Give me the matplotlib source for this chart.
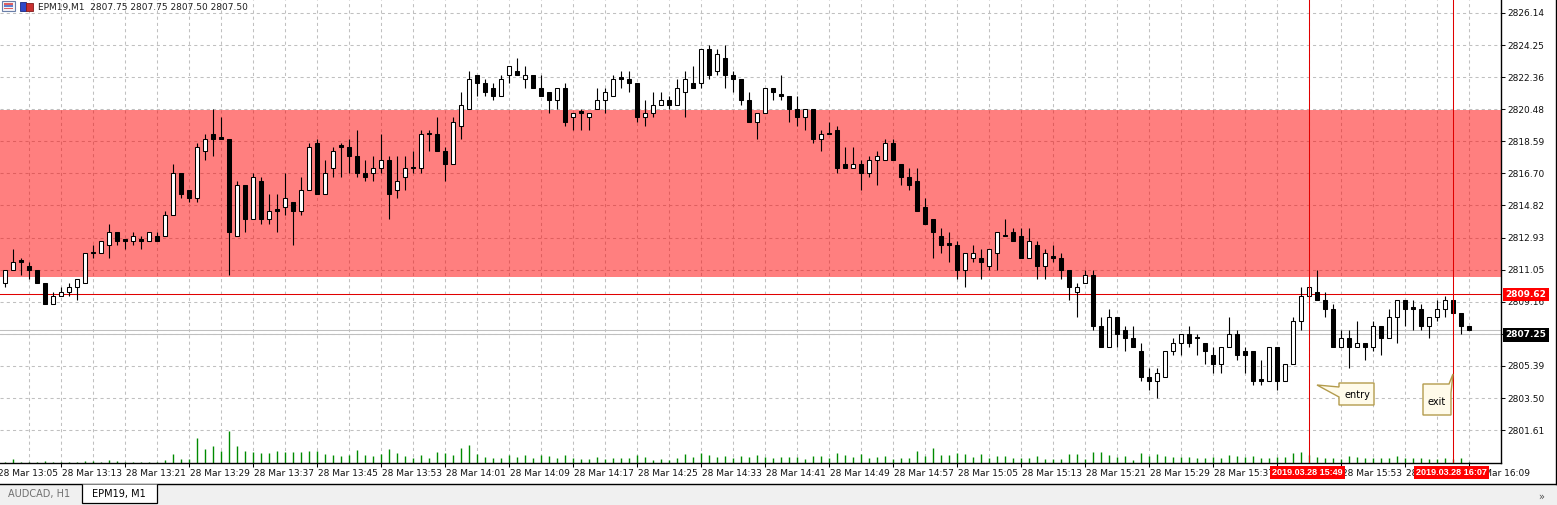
import numpy as np
import matplotlib
matplotlib.use('Agg')
import matplotlib.pyplot as plt
from matplotlib.patches import Polygon, Rectangle

plt.rcParams['font.family'] = ['DejaVu Sans']

# --- data (EPM19, M1, 28 Mar 13:06 .. 16:09) ---
OPEN = [
    2810.25, 2811.0, 2811.5, 2811.25, 2811.0, 2810.25, 2809.0, 2809.5, 2809.75, 2810.0,
    2810.25, 2812.0, 2812.0, 2812.5, 2813.25, 2812.75, 2812.75, 2812.75, 2812.75, 2813.0,
    2813.0, 2814.25, 2816.75, 2815.75, 2815.25, 2818.0, 2819.0, 2818.75, 2818.75, 2813.0,
    2816.0, 2814.0, 2816.25, 2814.0, 2814.5, 2814.75, 2815.0, 2814.5, 2815.75, 2818.5,
    2815.5, 2817.0, 2818.25, 2818.25, 2817.75, 2816.75, 2816.75, 2817.0, 2817.5, 2815.75,
    2816.5, 2817.0, 2817.0, 2819.0, 2819.0, 2818.0, 2817.25, 2819.5, 2820.5, 2822.5,
    2822.0, 2821.75, 2821.25, 2822.5, 2822.75, 2822.25, 2822.5, 2821.75, 2821.5, 2821.0,
    2821.75, 2820.0, 2820.25, 2820.0, 2820.5, 2821.0, 2821.25, 2822.25, 2822.25, 2822.0,
    2820.0, 2820.25, 2820.75, 2821.0, 2820.75, 2821.5, 2822.0, 2822.0, 2824.0, 2822.75,
    2823.5, 2822.5, 2822.25, 2821.0, 2819.75, 2820.25, 2821.75, 2821.25, 2821.25, 2820.5,
    2820.0, 2820.5, 2818.75, 2819.0, 2819.25, 2817.25, 2817.0, 2817.25, 2816.75, 2817.5,
    2817.5, 2818.5, 2817.25, 2816.5, 2816.25, 2814.75, 2814.0, 2813.0, 2812.5, 2812.5,
    2811.0, 2811.75, 2811.75, 2811.25, 2812.0, 2813.0, 2813.25, 2813.0, 2811.75, 2812.5,
    2811.25, 2811.75, 2811.75, 2811.0, 2809.75, 2810.25, 2810.75, 2807.75, 2806.5, 2808.25,
    2807.5, 2807.0, 2806.25, 2804.75, 2804.5, 2804.75, 2806.25, 2806.75, 2807.25, 2807.0,
    2806.75, 2806.0, 2805.5, 2806.5, 2807.25, 2806.25, 2806.25, 2804.5, 2804.5, 2806.5,
    2804.5, 2805.5, 2808.0, 2809.5, 2809.75, 2809.25, 2808.75, 2806.5, 2807.0, 2806.5,
    2806.75, 2806.5, 2807.75, 2807.0, 2808.25, 2809.25, 2808.75, 2808.75, 2807.75, 2808.25,
    2808.75, 2809.25, 2808.5, 2807.75,
]
HIGH = [
    2811.0, 2812.25, 2811.75, 2811.5, 2811.0, 2810.25, 2809.75, 2810.0, 2810.25, 2810.5,
    2812.0, 2812.5, 2812.75, 2813.75, 2813.25, 2812.75, 2813.25, 2813.0, 2813.25, 2813.25,
    2814.5, 2817.25, 2816.75, 2815.75, 2818.5, 2819.0, 2820.5, 2820.0, 2818.75, 2816.25,
    2816.0, 2816.75, 2816.5, 2815.5, 2815.5, 2816.75, 2815.0, 2816.5, 2818.5, 2818.75,
    2817.5, 2818.25, 2818.5, 2818.75, 2819.25, 2817.5, 2817.75, 2819.0, 2817.75, 2817.75,
    2817.75, 2818.0, 2819.25, 2819.25, 2820.0, 2818.25, 2820.0, 2821.5, 2822.75, 2822.5,
    2822.25, 2822.0, 2822.5, 2823.0, 2823.5, 2823.0, 2822.5, 2822.5, 2821.5, 2821.75,
    2822.0, 2820.25, 2820.5, 2820.25, 2821.75, 2821.75, 2822.5, 2822.75, 2822.75, 2822.0,
    2821.0, 2821.5, 2821.5, 2821.25, 2822.25, 2822.75, 2823.0, 2824.0, 2824.25, 2824.0,
    2824.25, 2822.75, 2822.25, 2821.5, 2820.25, 2821.75, 2821.75, 2822.5, 2821.25, 2821.25,
    2820.5, 2820.5, 2819.25, 2819.75, 2819.5, 2818.25, 2818.25, 2817.5, 2817.75, 2818.0,
    2818.75, 2818.75, 2817.25, 2817.0, 2817.0, 2815.25, 2814.0, 2813.5, 2813.25, 2812.75,
    2812.0, 2812.5, 2812.25, 2812.25, 2813.25, 2814.0, 2813.5, 2813.5, 2813.5, 2812.75,
    2812.25, 2812.5, 2812.0, 2811.0, 2810.25, 2811.0, 2811.0, 2808.25, 2808.75, 2808.25,
    2807.75, 2807.75, 2806.75, 2805.25, 2805.25, 2806.25, 2807.0, 2807.25, 2807.75, 2807.25,
    2806.75, 2806.5, 2806.5, 2808.25, 2807.5, 2806.5, 2806.25, 2805.75, 2806.5, 2806.5,
    2805.5, 2808.25, 2810.0, 2810.0, 2811.0, 2809.75, 2809.0, 2807.5, 2807.5, 2808.0,
    2806.75, 2808.0, 2807.75, 2808.75, 2809.25, 2809.25, 2809.25, 2809.0, 2808.25, 2809.25,
    2809.5, 2809.25, 2808.5, 2807.75,
]
LOW = [
    2810.0, 2811.0, 2810.75, 2810.5, 2810.25, 2809.0, 2809.0, 2809.5, 2809.5, 2809.25,
    2810.25, 2811.75, 2812.0, 2811.75, 2812.5, 2812.25, 2812.5, 2812.25, 2812.75, 2812.75,
    2813.0, 2814.25, 2815.25, 2815.0, 2815.0, 2817.5, 2817.75, 2818.75, 2810.75, 2813.0,
    2813.25, 2814.0, 2813.75, 2813.75, 2813.25, 2814.25, 2812.5, 2814.25, 2815.75, 2815.5,
    2815.5, 2816.5, 2816.5, 2816.75, 2816.5, 2816.25, 2816.25, 2816.75, 2814.0, 2815.25,
    2815.75, 2816.75, 2816.75, 2818.0, 2818.0, 2816.25, 2817.25, 2818.75, 2820.5, 2821.25,
    2821.25, 2821.0, 2821.25, 2822.0, 2822.5, 2821.75, 2821.75, 2821.25, 2820.25, 2820.5,
    2819.5, 2819.25, 2819.25, 2819.25, 2820.5, 2820.25, 2821.25, 2821.75, 2821.5, 2819.75,
    2819.5, 2820.0, 2820.75, 2820.5, 2820.75, 2820.0, 2821.75, 2821.75, 2822.25, 2822.5,
    2821.75, 2821.5, 2820.75, 2819.75, 2818.75, 2820.25, 2821.0, 2821.0, 2819.75, 2819.5,
    2819.25, 2818.5, 2818.0, 2819.0, 2816.75, 2817.0, 2817.0, 2815.75, 2816.5, 2816.0,
    2817.5, 2817.5, 2816.0, 2815.75, 2814.5, 2813.75, 2811.75, 2812.0, 2811.5, 2810.5,
    2810.0, 2811.5, 2810.5, 2811.0, 2811.0, 2813.0, 2812.75, 2811.75, 2811.75, 2810.5,
    2810.5, 2811.5, 2810.5, 2809.25, 2808.25, 2810.25, 2807.5, 2806.5, 2806.5, 2806.5,
    2806.25, 2806.5, 2804.5, 2804.0, 2803.5, 2804.75, 2806.0, 2806.0, 2806.5, 2806.0,
    2805.5, 2805.0, 2805.0, 2806.5, 2805.75, 2805.0, 2804.25, 2804.25, 2804.5, 2804.0,
    2804.5, 2805.5, 2807.5, 2809.5, 2809.25, 2808.25, 2806.5, 2806.5, 2805.25, 2806.5,
    2805.75, 2806.25, 2806.0, 2807.0, 2806.75, 2807.75, 2807.5, 2807.5, 2807.0, 2808.0,
    2808.25, 2808.5, 2807.25, 2807.5,
]
CLOSE = [
    2811.0, 2811.5, 2811.5, 2811.0, 2810.25, 2809.0, 2809.5, 2809.75, 2810.0, 2810.5,
    2812.0, 2812.0, 2812.75, 2813.25, 2812.75, 2812.75, 2813.0, 2812.75, 2813.25, 2812.75,
    2814.25, 2816.75, 2815.5, 2815.25, 2818.25, 2818.75, 2818.75, 2818.75, 2813.25, 2816.0,
    2814.0, 2816.5, 2814.0, 2814.5, 2814.5, 2815.25, 2814.5, 2815.75, 2818.25, 2815.5,
    2816.75, 2818.0, 2818.25, 2817.75, 2816.75, 2816.5, 2817.0, 2817.5, 2815.5, 2816.25,
    2817.0, 2817.0, 2819.0, 2819.0, 2818.0, 2817.25, 2819.75, 2820.75, 2822.25, 2822.0,
    2821.5, 2821.25, 2822.25, 2823.0, 2822.5, 2822.5, 2821.75, 2821.25, 2821.0, 2821.75,
    2819.75, 2820.25, 2820.25, 2820.25, 2821.0, 2821.5, 2822.25, 2822.25, 2822.0, 2820.0,
    2820.25, 2820.75, 2821.0, 2820.75, 2821.75, 2822.25, 2821.75, 2824.0, 2822.5, 2823.75,
    2822.5, 2822.25, 2821.0, 2819.75, 2820.25, 2821.75, 2821.5, 2821.25, 2820.5, 2820.0,
    2820.5, 2818.75, 2819.0, 2819.0, 2817.0, 2817.0, 2817.25, 2816.75, 2817.5, 2817.75,
    2818.5, 2817.5, 2816.5, 2816.0, 2814.5, 2813.75, 2813.25, 2812.5, 2812.5, 2811.0,
    2812.0, 2812.0, 2811.5, 2812.25, 2813.25, 2813.0, 2812.75, 2811.75, 2812.75, 2811.25,
    2812.0, 2811.75, 2811.0, 2810.0, 2810.0, 2810.75, 2807.75, 2806.5, 2808.25, 2807.25,
    2807.0, 2806.5, 2804.75, 2804.5, 2805.0, 2806.25, 2806.75, 2807.25, 2806.75, 2807.0,
    2806.25, 2805.5, 2806.5, 2807.25, 2806.0, 2806.0, 2804.5, 2804.5, 2806.5, 2804.5,
    2805.5, 2808.0, 2809.5, 2810.0, 2809.25, 2808.75, 2806.5, 2807.0, 2806.5, 2806.75,
    2806.5, 2807.75, 2807.0, 2808.25, 2809.25, 2808.75, 2808.75, 2807.75, 2808.25, 2808.75,
    2809.25, 2808.5, 2807.75, 2807.5,
]
# tick volume (scale unknown on the chart, read as bar height)
VOLUME = [
    1, 4, 1, 1, 1, 2, 1, 1, 1, 1, 2, 2, 1, 3, 2, 1, 1, 1, 1, 1,
    3, 9, 4, 4, 25, 14, 17, 12, 32, 17, 12, 11, 10, 10, 12, 11, 11, 11, 12, 12,
    9, 8, 7, 8, 13, 8, 7, 9, 14, 10, 7, 5, 8, 5, 11, 10, 8, 15, 18, 9,
    6, 5, 5, 8, 6, 8, 5, 8, 7, 5, 8, 5, 4, 4, 6, 4, 5, 5, 5, 8,
    6, 3, 4, 3, 5, 9, 6, 10, 8, 6, 7, 5, 7, 6, 8, 6, 5, 6, 6, 6,
    4, 7, 7, 5, 10, 8, 6, 9, 5, 6, 7, 4, 5, 5, 12, 7, 15, 8, 8, 10,
    9, 6, 9, 5, 7, 7, 5, 5, 5, 7, 4, 4, 4, 9, 9, 4, 11, 11, 8, 6,
    7, 3, 10, 7, 9, 7, 6, 6, 6, 5, 5, 6, 5, 8, 7, 6, 7, 5, 5, 6,
    6, 10, 11, 8, 6, 5, 5, 4, 7, 6, 5, 5, 5, 5, 7, 5, 5, 5, 4, 4,
    5, 4, 5, 1,
]

TIME_LABELS = [
    '28 Mar 13:05', '28 Mar 13:13', '28 Mar 13:21', '28 Mar 13:29', '28 Mar 13:37',
    '28 Mar 13:45', '28 Mar 13:53', '28 Mar 14:01', '28 Mar 14:09', '28 Mar 14:17',
    '28 Mar 14:25', '28 Mar 14:33', '28 Mar 14:41', '28 Mar 14:49', '28 Mar 14:57',
    '28 Mar 15:05', '28 Mar 15:13', '28 Mar 15:21', '28 Mar 15:29', '28 Mar 15:37',
    '28 Mar 15:45', '28 Mar 15:53', '28 Mar 16:01', '28 Mar 16:09',
]
PRICE_TICKS = [2826.14, 2824.25, 2822.36, 2820.48, 2818.59, 2816.70, 2814.82,
               2812.93, 2811.05, 2809.16, 2807.28, 2805.39, 2803.50, 2801.61]

ZONE_LOW, ZONE_HIGH = 2810.60, 2820.45
LEVEL_PRICE = 2809.62
BID_PRICE, ASK_PRICE = 2807.25, 2807.50
ENTRY_IDX, EXIT_IDX = 163, 181
ENTRY_LABEL = '2019.03.28 15:49'
EXIT_LABEL = '2019.03.28 16:07'
SYMBOL = 'EPM19,M1'

# --- canvas geometry (pixels) ---
W, H = 1557, 505
PLOT_R, PLOT_B = 1501, 463


def fx(px):
    return px / W


def fy(py):
    return 1 - py / H


fig = plt.figure(figsize=(W / 100, H / 100), dpi=100)
fig.patch.set_facecolor('white')
ax = fig.add_axes([0, fy(PLOT_B), PLOT_R / W, PLOT_B / H])
ax.set_xlim(-0.625, 187.0)
ax.set_ylim(2799.68, 2826.90)
ax.set_facecolor('white')

idx = np.arange(len(OPEN))
o = np.array(OPEN)
c = np.array(CLOSE)
hi = np.array(HIGH)
lo = np.array(LOW)

# grid
ax.set_axisbelow(True)
ax.yaxis.tick_right()
ax.set_yticks(PRICE_TICKS)
ax.set_yticklabels([f'{p:.2f}' for p in PRICE_TICKS])
ax.grid(axis='y', color='#c0c0c0', lw=0.75, ls=(0, (3, 3)))
ax.vlines(np.arange(3, 187, 4), 0, 1, transform=ax.get_xaxis_transform(),
          color='#c0c0c0', lw=0.75, linestyles=(0, (3, 3)), zorder=0.5)

# supply/demand zone (semi transparent so the grid shows through)
ax.axhspan(ZONE_LOW, ZONE_HIGH, facecolor='red', alpha=0.5, lw=0, zorder=1)

# level lines
ax.axhline(LEVEL_PRICE, color='#e00000', lw=0.75, zorder=2)
ax.axhline(ASK_PRICE, color='#c0c0c0', lw=0.75, zorder=2)
ax.axhline(BID_PRICE, color='#c0c0c0', lw=0.75, zorder=2)

# volumes (bottom of the main window)
ax.vlines(idx, 0, np.array(VOLUME) / PLOT_B, transform=ax.get_xaxis_transform(),
          color='#008a00', lw=1.0, zorder=2)

# candles
body_lo = np.minimum(o, c)
body_h = np.maximum(np.abs(c - o), 0.1)
faces = np.where(c > o, 'white', 'black')
ax.vlines(idx, lo, hi, color='black', lw=0.8, zorder=3)
ax.bar(idx, body_h, bottom=body_lo, width=0.5, color=faces,
       edgecolor='black', linewidth=0.75, zorder=4)

# entry / exit vertical lines
for i in (ENTRY_IDX, EXIT_IDX):
    ax.axvline(i, color='#e00000', lw=0.75, zorder=5)

# axes frame
for side in ('top', 'left'):
    ax.spines[side].set_visible(False)
for side in ('right', 'bottom'):
    ax.spines[side].set_color('black')
    ax.spines[side].set_linewidth(1.0)
ax.tick_params(axis='y', which='major', direction='out', length=3, width=0.75,
               pad=1.5, labelsize=6.5, colors='#101010')

label_idx = [-1 + 8 * k for k in range(len(TIME_LABELS))]
ax.set_xticks([i for i in label_idx if i >= 0])
ax.set_xticklabels([])
ax.tick_params(axis='x', direction='out', length=3, width=0.75, colors='black')
for i, lbl in zip(label_idx, TIME_LABELS):
    ax.annotate(lbl, xy=(i, 0), xycoords=ax.get_xaxis_transform(),
                xytext=(1, -4.2), textcoords='offset points', ha='left', va='top',
                fontsize=6.5, color='#101010', annotation_clip=False)

# red time labels for entry / exit
for i, lbl in ((ENTRY_IDX, ENTRY_LABEL), (EXIT_IDX, EXIT_LABEL)):
    ax.annotate(lbl, xy=(i, 0), xycoords=ax.get_xaxis_transform(),
                xytext=(-1, -3.6), textcoords='offset points', ha='center', va='top',
                fontsize=6.5, family='Liberation Sans', fontweight='bold', color='white',
                bbox=dict(boxstyle='square,pad=0.22', fc='#ff0000', ec='none'),
                annotation_clip=False, zorder=10)

# price boxes on the right scale
for p, col in ((LEVEL_PRICE, '#ff0000'), (BID_PRICE, 'black')):
    ax.annotate(f'{p:.2f}', xy=(1, p), xycoords=ax.get_yaxis_transform(),
                xytext=(3.4, -0.5), textcoords='offset points', ha='left', va='center',
                fontsize=6.5, fontweight='bold', color='white',
                bbox=dict(boxstyle='square,pad=0.25', fc=col, ec='none'),
                annotation_clip=False, zorder=10)

# callouts "entry" / "exit"
callout_fc, callout_ec = '#fffbea', '#b39b4c'
entry_shape = [(1339, 383), (1374, 383), (1374, 405), (1339, 405), (1339, 397),
               (1317, 385), (1339, 387)]
exit_shape = [(1423, 384), (1449, 384), (1453, 374), (1451, 393), (1451, 415),
              (1423, 415)]
for shape in (entry_shape, exit_shape):
    fig.add_artist(Polygon([(fx(x), fy(y)) for x, y in shape], closed=True,
                           transform=fig.transFigure, fc=callout_fc, ec=callout_ec,
                           lw=1.0, zorder=20))
fig.text(fx(1357), fy(395), 'entry', ha='center', va='center', fontsize=7,
         color='black', zorder=21)
fig.text(fx(1437), fy(402), 'exit', ha='center', va='center', fontsize=7,
         color='black', zorder=21)

# header: icons + symbol info
fig.add_artist(Rectangle((fx(2), fy(11)), 13 / W, 10 / H, transform=fig.transFigure,
                         fc='#f4f4f8', ec='#6a7fa8', lw=0.8, zorder=20))
for k, col in enumerate(['#e06060', '#6080d0', '#e06060']):
    fig.add_artist(Rectangle((fx(4), fy(4.5 + 2.3 * k)), 9 / W, 1.4 / H,
                             transform=fig.transFigure, fc=col, ec='none', zorder=21))
fig.add_artist(Rectangle((fx(20), fy(11)), 6 / W, 9 / H, transform=fig.transFigure,
                         fc='#2e48c8', ec='#1a2a80', lw=0.6, zorder=20))
fig.add_artist(Rectangle((fx(26), fy(11)), 7 / W, 8 / H, transform=fig.transFigure,
                         fc='#c83030', ec='#801a1a', lw=0.6, zorder=20))
fig.text(fx(38), fy(7.5), f'{SYMBOL}  {OPEN[-1]:.2f} {HIGH[-1]:.2f} '
         f'{LOW[-1]:.2f} {CLOSE[-1]:.2f}', ha='left', va='center', fontsize=6.5,
         color='#202020', zorder=21)

# window frame + tab strip
fig.add_artist(Rectangle((0, 0), 1, 21 / H, transform=fig.transFigure,
                         fc='#f0f0f0', ec='none', zorder=20))
fig.add_artist(plt.Line2D([0, 1], [fy(484), fy(484)], transform=fig.transFigure,
                          color='black', lw=1.0, zorder=21))
fig.add_artist(plt.Line2D([fx(1555.5), fx(1555.5)], [fy(0), fy(484)],
                          transform=fig.transFigure, color='black', lw=1.0, zorder=21))
fig.add_artist(Polygon([(fx(82), fy(484)), (fx(82), fy(503)), (fx(157), fy(503)),
                        (fx(157), fy(484))], closed=False, transform=fig.transFigure,
                       fc='white', ec='black', lw=0.9, zorder=22))
fig.text(fx(39), fy(494.5), 'AUDCAD, H1', ha='center', va='center', fontsize=7,
         color='#707070', zorder=23)
fig.text(fx(119), fy(493.5), 'EPM19, M1', ha='center', va='center', fontsize=7,
         color='black', zorder=23)
fig.text(fx(1541), fy(497), '»', ha='center', va='center', fontsize=7,
         color='#505050', zorder=23)

fig.savefig('out.png', dpi=100, facecolor='white')
